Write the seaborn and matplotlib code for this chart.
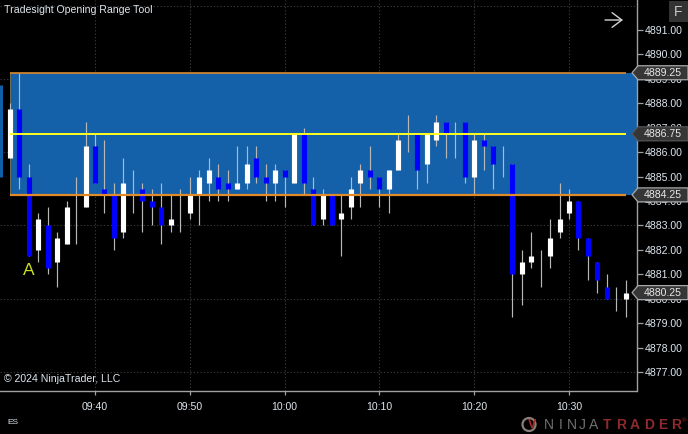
import matplotlib
matplotlib.use('Agg')
import matplotlib.pyplot as plt
from matplotlib.patches import Polygon, Rectangle, Circle
from matplotlib.transforms import IdentityTransform
import pandas as pd
import seaborn as sns

# One-minute bars, 09:31 to 10:36
opens = [4885.75, 4887.75, 4885.0, 4882.0, 4883.0, 4881.5, 4882.25, 4883.5, 4883.75, 4886.25,
         4884.5, 4884.25, 4882.75, 4884.0, 4884.5, 4884.0, 4883.75, 4883.0, 4883.5, 4883.5,
         4884.25, 4884.75, 4885.0, 4884.75, 4884.5, 4884.75, 4885.75, 4885.0, 4884.75, 4885.25,
         4884.75, 4886.75, 4884.5, 4883.25, 4884.25, 4883.25, 4883.75, 4884.75, 4885.25, 4885.0,
         4884.5, 4885.25, 4887.0, 4886.75, 4885.5, 4886.5, 4887.25, 4886.5, 4887.25, 4885.0,
         4886.5, 4886.25, 4885.5, 4885.5, 4881.0, 4881.5, 4881.0, 4881.75, 4882.75, 4883.5,
         4884.0, 4882.5, 4881.5, 4880.5, 4880.0, 4880.0]
closes = [4887.75, 4885.0, 4881.75, 4883.25, 4881.25, 4882.5, 4883.75, 4883.5, 4886.25, 4884.75,
          4884.25, 4882.5, 4884.75, 4884.0, 4884.0, 4883.75, 4883.0, 4883.25, 4883.5, 4884.25,
          4885.0, 4885.25, 4884.5, 4884.5, 4884.75, 4885.5, 4885.0, 4884.75, 4885.25, 4885.0,
          4886.75, 4884.75, 4883.0, 4884.25, 4883.0, 4883.5, 4884.5, 4885.25, 4885.0, 4884.5,
          4885.25, 4886.5, 4887.0, 4885.25, 4886.75, 4887.25, 4886.75, 4886.5, 4885.0, 4886.5,
          4886.25, 4885.5, 4885.5, 4881.0, 4881.5, 4881.75, 4881.0, 4882.5, 4883.25, 4884.0,
          4882.5, 4881.75, 4880.75, 4880.0, 4880.0, 4880.25]
highs = [4888.0, 4889.25, 4885.5, 4883.5, 4883.75, 4882.75, 4884.0, 4885.0, 4887.25, 4886.75,
         4886.5, 4884.75, 4885.75, 4885.25, 4884.75, 4884.5, 4884.75, 4884.25, 4884.5, 4885.0,
         4885.25, 4885.75, 4885.5, 4885.25, 4886.25, 4886.25, 4886.25, 4885.5, 4885.5, 4885.25,
         4886.75, 4887.0, 4885.0, 4884.5, 4884.25, 4884.25, 4885.0, 4885.5, 4886.25, 4885.0,
         4885.25, 4886.75, 4887.5, 4886.75, 4886.75, 4887.5, 4887.25, 4887.25, 4887.25, 4886.75,
         4886.75, 4886.25, 4886.25, 4885.5, 4882.0, 4882.75, 4882.0, 4883.25, 4884.75, 4884.5,
         4884.0, 4882.5, 4881.5, 4881.0, 4880.5, 4880.75]
lows = [4885.75, 4884.5, 4881.75, 4881.5, 4881.0, 4880.5, 4882.25, 4882.25, 4883.75, 4884.75,
        4883.5, 4882.0, 4882.5, 4883.5, 4882.75, 4883.0, 4882.25, 4882.75, 4882.75, 4883.25,
        4883.0, 4884.0, 4884.0, 4884.0, 4884.5, 4884.5, 4884.75, 4884.0, 4884.0, 4883.75,
        4884.75, 4884.25, 4883.0, 4883.0, 4883.0, 4881.75, 4883.25, 4883.75, 4884.5, 4883.75,
        4883.5, 4885.25, 4886.0, 4884.5, 4884.75, 4886.25, 4885.75, 4885.75, 4884.75, 4884.25,
        4885.25, 4884.5, 4885.0, 4879.25, 4879.75, 4881.25, 4880.5, 4881.25, 4882.5, 4883.25,
        4882.0, 4880.75, 4880.25, 4880.0, 4879.5, 4879.25]
minutes = list(range(31, 97))  # minutes after 09:00

# Partly hidden bar at the left edge
edge_minute = 30
edge_open = 4888.75
edge_close = 4885.0

# Opening range levels
range_high = 4889.25
range_mid = 4886.75
range_low = 4884.25
last_price = 4880.25

flag_prices = [range_mid, range_high, range_low, last_price]
flag_edges = ['#555555', '#a8a8a8', '#a8a8a8', '#a8a8a8']

price_ticks = list(range(4877, 4892))
grid_prices = [4877, 4880, 4883, 4886, 4889, 4892]
time_ticks = [40, 50, 60, 70, 80, 90]
time_labels = ['09:40', '09:50', '10:00', '10:10', '10:20', '10:30']

sns.set_theme(style='dark', rc={
    'figure.facecolor': 'black',
    'axes.facecolor': 'black',
    'savefig.facecolor': 'black',
    'axes.edgecolor': '#a0a0a0',
    'lines.solid_capstyle': 'butt',
})
plt.rcParams['font.family'] = ['Liberation Sans', 'DejaVu Sans']

W, H = 688, 434
TXT = '#dde6ee'
GRID = '#383838'
BAND = '#1666b3'

fig = plt.figure(figsize=(W / 100, H / 100), dpi=100)
ax = fig.add_axes([0, (H - 390.5) / H, 636.5 / W, 390.5 / H])

# wicks and bodies in long form
wicks = pd.DataFrame({
    'minute': minutes + minutes,
    'price': highs + lows,
    'bar': minutes + minutes,
})
body_rows = []
for m, o, c in zip(minutes, opens, closes):
    if o == c:
        continue  # doji, only the wick shows
    side = 'up' if c > o else 'down'
    body_rows.append({'minute': m, 'price': o, 'bar': m, 'side': side})
    body_rows.append({'minute': m, 'price': c, 'bar': m, 'side': side})
bodies = pd.DataFrame(body_rows)
edge_bar = pd.DataFrame({'minute': [edge_minute, edge_minute], 'price': [edge_open, edge_close]})

# grid
ax.hlines(grid_prices, 0, 1, transform=ax.get_yaxis_transform(), colors=GRID, lw=0.8,
          linestyles=(0, (1.2, 1.8)), zorder=0)
ax.vlines(time_ticks, 0, 1, transform=ax.get_xaxis_transform(), colors=GRID, lw=0.8,
          linestyles=(0, (1.2, 1.8)), zorder=0)

# opening range band
ax.add_patch(Rectangle((minutes[0], range_low), 200, range_high - range_low, facecolor=BAND,
                       alpha=0.95, edgecolor='none', zorder=1))
ax.plot([minutes[0], minutes[0]], [range_low, range_high], color='#6e6e50', lw=0.7, zorder=2)

sns.lineplot(data=edge_bar, x='minute', y='price', estimator=None, color='#0f5fa8',
             lw=3.6, solid_capstyle='butt', zorder=2, ax=ax)
sns.lineplot(data=wicks, x='minute', y='price', units='bar', estimator=None, color='#b8b8b8',
             lw=0.85, solid_capstyle='butt', zorder=3, legend=False, ax=ax)
sns.lineplot(data=bodies, x='minute', y='price', units='bar', hue='side', estimator=None,
             palette={'up': 'white', 'down': '#0000ff'}, lw=3.7, solid_capstyle='butt',
             zorder=4, legend=False, ax=ax)

# range lines stop at the last bar
ax.plot([minutes[0], minutes[-1]], [range_high, range_high], color='#e08a2a', lw=1.2, zorder=5)
ax.plot([minutes[0], minutes[-1]], [range_low, range_low], color='#e08a2a', lw=1.6, zorder=5)
ax.plot([minutes[0], minutes[-1]], [range_mid, range_mid], color='#ffff1e', lw=1.4, zorder=5)

ax.set_xlim(40 - 95 / 9.48, 40 + 541.5 / 9.48)
ax.set_ylim(4877 - 18.5 / 24.43, 4891 + 30 / 24.43)
ax.set_xlabel('')
ax.set_ylabel('')

ax.yaxis.tick_right()
ax.set_yticks(price_ticks)
ax.set_yticklabels([f'{p:.2f}' for p in price_ticks])
ax.set_xticks(time_ticks)
ax.set_xticklabels(time_labels)
ax.tick_params(axis='y', length=4.5, width=0.9, color='#a0a0a0', labelcolor=TXT, labelsize=7.6, pad=1.5,
               right=True, left=False)
ax.tick_params(axis='x', length=3, width=0.9, color='#a0a0a0', labelcolor=TXT, labelsize=7.6, pad=5.5,
               bottom=True)
for side in ['top', 'left']:
    ax.spines[side].set_visible(False)
for side in ['right', 'bottom']:
    ax.spines[side].set_visible(True)
    ax.spines[side].set_color('#a0a0a0')
    ax.spines[side].set_linewidth(1.0)

ax.text(33, 4881.15, 'A', color='#c8e020', fontsize=12.5, ha='center', va='center', zorder=6)

# Everything outside the plot is placed in pixels from the top left
px = IdentityTransform()


def pixel_text(x, y, s, **kw):
    fig.text(x, H - y, s, transform=px, **kw)


pixel_text(4.5, 10, 'Tradesight Opening Range Tool', color=TXT, fontsize=7.6, va='center')
pixel_text(4, 379, '\u00a9 2024 NinjaTrader, LLC', color=TXT, fontsize=7.6, va='center')
pixel_text(7, 423, 'ES', color=TXT, fontsize=6, va='center')

# price flags on the axis
fig.canvas.draw()
for price, edge in zip(flag_prices, flag_edges):
    y = ax.transData.transform((0, price))[1]
    fig.add_artist(Polygon([(632, y), (638, y + 7), (688, y + 7), (688, y - 7), (638, y - 7)],
                           closed=True, transform=px, facecolor='#363636', edgecolor=edge,
                           lw=0.9, zorder=2))
    fig.text(644, y, f'{price:.2f}', transform=px, color='#e8e8e8', fontsize=7.6, va='center', zorder=3)

# F button and arrow
fig.add_artist(Rectangle((669, H - 22), 19, 21, transform=px, facecolor='#333333',
                         edgecolor='none', zorder=2))
pixel_text(678.5, 12, 'F', color='#c8c8c8', fontsize=10, ha='center', va='center')
ax.annotate('', xy=(623, H - 20), xytext=(605, H - 20), xycoords=px, textcoords=px,
            arrowprops=dict(arrowstyle='->,head_length=0.32,head_width=0.24', color='#d4d4d4', lw=1.0,
                            mutation_scale=22, shrinkA=0, shrinkB=0), zorder=7)

# logo
fig.add_artist(Circle((529, H - 424.5), 6.5, transform=px, facecolor='none', edgecolor='#8a7f78',
                      lw=1.6, zorder=2))
pixel_text(532, 425, 'V', color='#b02a2a', fontsize=9, fontweight='bold', ha='center', va='center')
for i, ch in enumerate('NINJA'):
    pixel_text(549 + i * 11.2, 425, ch, color='#707070', fontsize=10, ha='center', va='center')
for i, ch in enumerate('TRADER'):
    pixel_text(607 + i * 13.9, 425, ch, color='#8e2a2e', fontsize=10, fontweight='bold',
               ha='center', va='center')
pixel_text(684.5, 421, '\u00ae', color='#8e2a2e', fontsize=4.5, ha='center', va='center')

fig.savefig('out.png', dpi=100)
